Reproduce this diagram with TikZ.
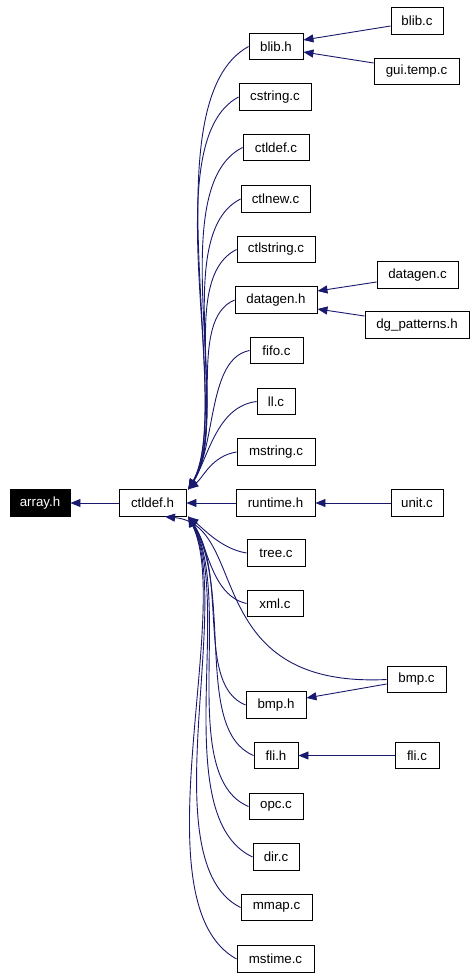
\documentclass[tikz,border=0pt]{standalone}
\usepackage{fontspec}
\setmainfont{Liberation Sans}
\usetikzlibrary{arrows.meta}
\definecolor{edgeblue}{HTML}{191970}
\begin{document}
\begin{tikzpicture}[x=1pt,y=-1pt,
 box/.style={draw=black, line width=0.9pt, fill=white, minimum height=26.5pt, inner sep=0pt, font=\fontsize{13.3}{15}\selectfont, text=black},
 rootbox/.style={box, fill=black, text=white},
 edge/.style={draw=edgeblue, line width=0.9pt, -{Triangle[length=10pt,width=8pt]}}]
\useasboundingbox[fill=white] (0,0) rectangle (476,979);

% nodes
\node[rootbox, minimum width=60pt] (arrayh) at (40,503) {array.h};
\node[box, minimum width=67pt] (ctldefh) at (152.5,503) {ctldef.h};

\node[box, minimum width=54pt] (blibh) at (276,46.5) {blib.h};
\node[box, minimum width=52pt] (blibc) at (417,21) {blib.c};
\node[box, minimum width=85pt] (guitemp) at (416.5,71.5) {gui.temp.c};
\node[box, minimum width=72pt] (cstring) at (275,97) {cstring.c};
\node[box, minimum width=66pt] (ctldefc) at (276,147.5) {ctldef.c};
\node[box, minimum width=69pt] (ctlnew) at (275.5,199) {ctlnew.c};
\node[box, minimum width=78pt] (ctlstring) at (276,249.5) {ctlstring.c};
\node[box, minimum width=82pt] (datagenh) at (276,300) {datagen.h};
\node[box, minimum width=81pt] (datagenc) at (417.5,275) {datagen.c};
\node[box, minimum width=104pt] (dgpat) at (417,325) {dg\_patterns.h};
\node[box, minimum width=53pt] (fifo) at (276.5,350.5) {fifo.c};
\node[box, minimum width=38pt] (ll) at (276,401.5) {ll.c};
\node[box, minimum width=78pt] (mstring) at (276,452) {mstring.c};
\node[box, minimum width=79pt] (runtimeh) at (275.5,503) {runtime.h};
\node[box, minimum width=52pt] (unitc) at (417,503) {unit.c};
\node[box, minimum width=58pt] (tree) at (276,553) {tree.c};
\node[box, minimum width=56pt] (xml) at (275,603.5) {xml.c};
\node[box, minimum width=59pt] (bmpc) at (416.5,679.5) {bmp.c};
\node[box, minimum width=60pt] (bmph) at (276,705) {bmp.h};
\node[box, minimum width=44pt] (flih) at (276,755.5) {fli.h};
\node[box, minimum width=44pt] (flic) at (417,755.5) {fli.c};
\node[box, minimum width=54pt] (opc) at (276,806.5) {opc.c};
\node[box, minimum width=46pt] (dir) at (276,857) {dir.c};
\node[box, minimum width=71pt] (mmap) at (276.5,907.5) {mmap.c};
\node[box, minimum width=77pt] (mstime) at (275.5,959) {mstime.c};

% straight edges
\draw[edge] (ctldefh) -- (arrayh);
\draw[edge] (runtimeh) -- (ctldefh);
\draw[edge] (unitc) -- (runtimeh);
\draw[edge] (flic) -- (flih);
\draw[edge] ([yshift=-5pt]blibc.west) -- ([yshift=6.5pt]blibh.east);
\draw[edge] ([yshift=8.5pt]guitemp.west) -- ([yshift=-5.5pt]blibh.east);
\draw[edge] ([yshift=-7pt]datagenc.west) -- ([yshift=9pt]datagenh.east);
\draw[edge] ([yshift=9pt]dgpat.west) -- ([yshift=-9pt]datagenh.east);
\draw[edge] ([yshift=-4.5pt]bmpc.west) -- ([yshift=7pt]bmph.east);

% upper curves into ctldef.h
\draw[edge] (blibh.west) .. controls +(-99,54) and +(45,-80) .. ([xshift=2pt]ctldefh.north east);
\draw[edge] (cstring.west) .. controls +(-85,45) and +(45,-80) .. ([xshift=2pt]ctldefh.north east);
\draw[edge] (ctldefc.west) .. controls +(-80,40) and +(45,-75) .. ([xshift=2pt]ctldefh.north east);
\draw[edge] (ctlnew.west) .. controls +(-70,35) and +(42,-70) .. ([xshift=2pt]ctldefh.north east);
\draw[edge] (ctlstring.west) .. controls +(-60,30) and +(40,-65) .. ([xshift=2pt]ctldefh.north east);
\draw[edge] (datagenh.west) .. controls +(-48,20) and +(35,-55) .. ([xshift=2pt]ctldefh.north east);
\draw[edge] (fifo.west) .. controls +(-42,8) and +(28,-45) .. ([xshift=2pt]ctldefh.north east);
\draw[edge] (ll.west) .. controls +(-40,5) and +(20,-32) .. ([xshift=2pt]ctldefh.north east);
\draw[edge] (mstring.west) .. controls +(-25,4) and +(15,-12) .. ([xshift=2pt]ctldefh.north east);

% lower curves into ctldef.h
\draw[edge] (tree.west) .. controls +(-25,-4) and +(15,12) .. ([xshift=2pt]ctldefh.south east);
\draw[edge] (xml.west) .. controls +(-35,-8) and +(20,30) .. ([xshift=2pt]ctldefh.south east);
\draw[edge] (bmph.west) .. controls +(-50,-20) and +(40,60) .. ([xshift=2pt]ctldefh.south east);
\draw[edge] (flih.west) .. controls +(-60,-25) and +(45,75) .. ([xshift=2pt]ctldefh.south east);
\draw[edge] (opc.west) .. controls +(-72,-30) and +(45,80) .. ([xshift=2pt]ctldefh.south east);
\draw[edge] (dir.west) .. controls +(-85,-40) and +(45,85) .. ([xshift=2pt]ctldefh.south east);
\draw[edge] (mmap.west) .. controls +(-90,-45) and +(45,90) .. ([xshift=2pt]ctldefh.south east);
\draw[edge] (mstime.west) .. controls +(-100,-55) and +(45,95) .. ([xshift=2pt]ctldefh.south east);

% bmp.c long curve
\draw[edge] (bmpc.west) .. controls +(-187,9) and +(85,8) .. ([xshift=12.5pt]ctldefh.south);
\end{tikzpicture}
\end{document}
